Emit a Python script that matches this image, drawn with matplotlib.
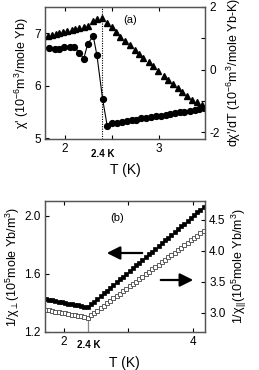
import matplotlib
matplotlib.use("Agg")
import matplotlib.pyplot as plt
import matplotlib.patches as mpatches
import matplotlib.transforms as mtrans

plt.rcParams['font.family'] = ['Liberation Sans', 'DejaVu Sans']
plt.rcParams['mathtext.fontset'] = 'custom'
plt.rcParams['mathtext.rm'] = 'Liberation Sans'
plt.rcParams['mathtext.it'] = 'Liberation Sans:italic'
plt.rcParams['mathtext.bf'] = 'Liberation Sans:bold'

# ---------------- data panel (a) ----------------
T_chi = [1.83, 1.89, 1.94, 1.99, 2.05, 2.10, 2.15, 2.20, 2.24, 2.30, 2.34, 2.40,
         2.45, 2.50, 2.55, 2.61, 2.66, 2.71, 2.76, 2.81, 2.86, 2.91, 2.97, 3.02,
         3.07, 3.12, 3.17, 3.22, 3.27, 3.33, 3.38, 3.43, 3.48]
chi = [6.72, 6.70, 6.71, 6.73, 6.74, 6.74, 6.63, 6.52, 6.79, 6.95, 6.58, 5.75,
       5.23, 5.29, 5.30, 5.32, 5.33, 5.35, 5.36, 5.38, 5.39, 5.41, 5.42, 5.43,
       5.45, 5.47, 5.48, 5.50, 5.51, 5.53, 5.55, 5.56, 5.58]

T_der = [1.82, 1.86, 1.90, 1.94, 1.98, 2.02, 2.07, 2.11, 2.15, 2.20, 2.24, 2.30,
         2.34, 2.39, 2.45, 2.50, 2.54, 2.59, 2.64, 2.69, 2.74, 2.79, 2.83, 2.89,
         2.94, 2.99, 3.05, 3.10, 3.15, 3.20, 3.25, 3.30, 3.35, 3.41, 3.46]
dchi = [1.06, 1.09, 1.14, 1.17, 1.20, 1.23, 1.26, 1.30, 1.33, 1.36, 1.40, 1.56,
        1.63, 1.64, 1.49, 1.35, 1.20, 1.05, 0.92, 0.77, 0.63, 0.50, 0.37, 0.23,
        0.10, -0.04, -0.19, -0.33, -0.46, -0.59, -0.72, -0.86, -0.97, -1.05, -1.12]

# ---------------- data panel (b) ----------------
T_b = [1.72, 1.77, 1.82, 1.87, 1.92, 1.97, 2.02, 2.07, 2.12, 2.17, 2.22, 2.27,
       2.32, 2.37, 2.42, 2.47, 2.52, 2.57, 2.62, 2.67, 2.72, 2.77, 2.82, 2.87,
       2.92, 2.97, 3.02, 3.07, 3.12, 3.17, 3.22, 3.27, 3.32, 3.37, 3.42, 3.47,
       3.52, 3.57, 3.62, 3.67, 3.72, 3.77, 3.82, 3.87, 3.92, 3.97, 4.02, 4.07,
       4.12, 4.17]
inv_perp = [1.425, 1.421, 1.417, 1.412, 1.408, 1.404, 1.400, 1.395, 1.391, 1.387,
            1.383, 1.378, 1.374, 1.370, 1.389, 1.408, 1.427, 1.447, 1.466, 1.485,
            1.504, 1.523, 1.542, 1.562, 1.581, 1.600, 1.619, 1.638, 1.657, 1.677,
            1.696, 1.715, 1.734, 1.753, 1.772, 1.792, 1.811, 1.830, 1.849, 1.868,
            1.887, 1.907, 1.926, 1.945, 1.964, 1.983, 2.002, 2.022, 2.041, 2.060]
inv_par = [3.05, 3.04, 3.03, 3.02, 3.01, 3.00, 2.99, 2.98, 2.97, 2.96,
           2.95, 2.94, 2.93, 2.92, 2.959, 2.997, 3.036, 3.075, 3.114, 3.153,
           3.192, 3.231, 3.269, 3.308, 3.347, 3.386, 3.425, 3.464, 3.503, 3.542,
           3.581, 3.619, 3.658, 3.697, 3.736, 3.775, 3.814, 3.853, 3.892, 3.931,
           3.969, 4.008, 4.047, 4.086, 4.125, 4.164, 4.203, 4.242, 4.281, 4.320]

T_trans_a = 2.39
T_trans_b = 2.37

W, H = 259, 370
fig = plt.figure(figsize=(W / 100, H / 100), dpi=100)

def fx(px):
    return px / W

def fy(py):
    return 1 - py / H

spine_col = '#555555'
tick_fs = 8.5
lab_fs = 9

def style(ax):
    for s in ax.spines.values():
        s.set_color(spine_col)
        s.set_linewidth(0.9)
    ax.tick_params(direction='in', length=3, width=0.8, colors='black',
                   labelsize=tick_fs, pad=3)

# ---------------- panel (a) ----------------
axa = fig.add_axes([fx(45), fy(139), fx(160), (139 - 7) / H])
axa.plot(T_chi, chi, '-', color='black', lw=0.8, marker='o', ms=4.2,
         mfc='black', mec='black')
axa.set_xlim(1.787, 3.49)
axa.set_ylim(4.99, 7.5)
axa.set_yticks([5, 6, 7])
axa.set_yticklabels(['5', '6', '7'])
axa.set_xticks([2, 2.5, 3])
axa.set_xticklabels(['2', '', '3'])
axa.axvline(T_trans_a, color='black', lw=0.8, ls=(0, (1, 1.2)))
style(axa)
axa.tick_params(top=True)
axa.set_ylabel("χ' (10$^{-6}$m$^3$/mole Yb)", fontsize=lab_fs, labelpad=2)
axa.set_xlabel('T (K)', fontsize=10, labelpad=6)
axa.text(T_trans_a + 0.01, -0.075, '2.4 K',
         transform=mtrans.blended_transform_factory(axa.transData, axa.transAxes),
         ha='center', va='top', fontsize=7, fontweight='bold')
axa.text(0.53, 0.90, '(a)', transform=axa.transAxes, fontsize=8, ha='center', va='center')

axa2 = axa.twinx()
axa2.plot(T_der, dchi, linestyle='none', marker='^', ms=5, mfc='black', mec='black')
axa2.set_ylim(-2.22, 2.0)
axa2.set_yticks([-2, -1, 0, 1, 2])
axa2.set_yticklabels(['-2', '', '0', '', '2'])
style(axa2)
axa2.set_ylabel("dχ'/dT (10$^{-6}$m$^3$/mole Yb-K)", fontsize=lab_fs, rotation=90, labelpad=4)

# ---------------- panel (b) ----------------
axb = fig.add_axes([fx(44.5), fy(332), fx(160.5), (332 - 201) / H])
axb.plot(T_b, inv_perp, linestyle='none', marker='s', ms=2.3, mfc='black', mec='black', mew=0.5)
axb.set_xlim(1.70, 4.19)
axb.set_ylim(1.2, 2.1)
axb.set_yticks([1.2, 1.6, 2.0])
axb.set_yticklabels(['1.2', '1.6', '2.0'])
axb.set_xticks([2, 3, 4])
axb.set_xticklabels(['2', '', '4'])
axb.plot([T_trans_b, T_trans_b], [1.2, 1.31], color='#888888', lw=0.9)
style(axb)
axb.tick_params(top=True)
axb.set_ylabel("1/χ$_{\\perp}$(10$^5$mole Yb/m$^3$)", fontsize=lab_fs, labelpad=1)
axb.set_xlabel('T (K)', fontsize=10, labelpad=6)
axb.text(T_trans_b + 0.02, -0.06, '2.4 K',
         transform=mtrans.blended_transform_factory(axb.transData, axb.transAxes),
         ha='center', va='top', fontsize=7, fontweight='bold')
axb.text(0.45, 0.87, '(b)', transform=axb.transAxes, fontsize=8, ha='center', va='center')

axb2 = axb.twinx()
axb2.plot(T_b, inv_par, linestyle='none', marker='s', ms=2.6, mfc='white', mec='#444444', mew=0.6)
axb2.set_ylim(2.69, 4.8)
axb2.set_yticks([3.0, 3.5, 4.0, 4.5])
axb2.set_yticklabels(['3.0', '3.5', '4.0', '4.5'])
style(axb2)
axb2.set_ylabel("1/χ$_{||}$(10$^5$mole Yb/m$^3$)", fontsize=lab_fs, rotation=90, labelpad=3)

# arrows
fig.add_artist(mpatches.FancyArrowPatch((fx(145), fy(253)), (fx(104), fy(253)),
               transform=fig.transFigure, arrowstyle='-|>', mutation_scale=20,
               lw=1.6, color='black'))
fig.add_artist(mpatches.FancyArrowPatch((fx(158), fy(280)), (fx(196), fy(280)),
               transform=fig.transFigure, arrowstyle='-|>', mutation_scale=20,
               lw=1.6, color='black'))

fig.savefig('out.png', dpi=100)
